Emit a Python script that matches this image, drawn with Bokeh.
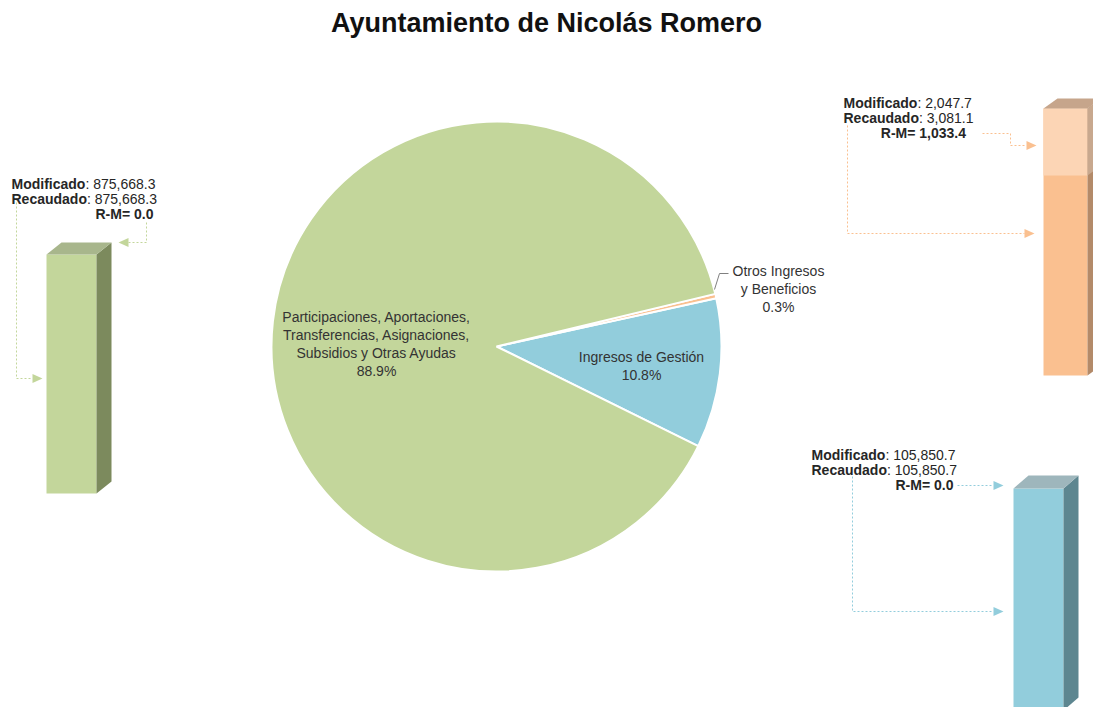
import math
from bokeh.plotting import figure
from bokeh.models import Range1d
from bokeh.embed import file_html
from bokeh.resources import INLINE
from bokeh.core.properties import value

# ---------------- data ----------------
title_text = "Ayuntamiento de Nicolás Romero"
categories = ["Participaciones, Aportaciones, Transferencias, Asignaciones, Subsidios y Otras Ayudas",
              "Ingresos de Gestión",
              "Otros Ingresos y Beneficios"]
label_lines = [["Participaciones, Aportaciones,", "Transferencias, Asignaciones,", "Subsidios y Otras Ayudas"],
               ["Ingresos de Gestión"],
               ["Otros Ingresos", "y Beneficios"]]
modificado = [875668.3, 105850.7, 2047.7]
recaudado = [875668.3, 105850.7, 3081.1]
pie_colors = ["#C3D69B", "#92CDDC", "#FAC090"]

# ---------------- layout helpers ----------------
FONT = "Liberation Sans"
W, H = 1093, 707


def Y(sy):
    # screen y -> data y
    return H - sy


REG = {c: 556 for c in "0123456789"}
REG.update({",": 278, ".": 278, ":": 278, " ": 278})
BOLD = {c: 556 for c in "0123456789"}
BOLD.update({"M": 833, "o": 611, "d": 611, "i": 278, "f": 333, "c": 556, "a": 556,
             "R": 722, "e": 556, "u": 611, "-": 333, "=": 584, " ": 278, ",": 278,
             ".": 278, ":": 333})


def tw(s, table, size):
    return sum(table.get(c, 556) for c in s) / 1000.0 * size


def fmt(v):
    return f"{v:,.1f}"


p = figure(width=W, height=H, x_range=Range1d(0, W), y_range=Range1d(0, H),
           output_backend="svg", toolbar_location=None, min_border=0,
           outline_line_color=None, background_fill_color="white",
           border_fill_color="white")
p.axis.visible = False
p.xgrid.visible = False
p.ygrid.visible = False

# ---------------- title ----------------
p.text(x=[546], y=[Y(22)], text=[title_text], text_font=value(FONT), text_font_size="27px",
       text_font_style="bold", text_align="center", text_baseline="middle",
       text_color="#111111")

# ---------------- pie ----------------
cx, cy, R = 496, Y(346), 225
total = sum(recaudado)
order = [1, 2, 0]
a = math.radians(-26.3)
starts, ends, cols = [], [], []
for i in order:
    span = recaudado[i] / total * 2 * math.pi
    starts.append(a)
    ends.append(a + span)
    cols.append(pie_colors[i])
    a += span
p.wedge(x=cx, y=cy, radius=R, start_angle=starts, end_angle=ends, fill_color=cols,
        line_color="white", line_width=2)

pct = [f"{v / total * 100:.1f}%" for v in recaudado]
label_pos = [(376, 316), (641, 356), (778, 270)]
for i, (lx, ly) in enumerate(label_pos):
    lines = label_lines[i] + [pct[i]]
    ys = [Y(ly + k * 18.2) for k in range(len(lines))]
    p.text(x=[lx] * len(lines), y=ys, text=lines, text_font=value(FONT),
           text_font_size="14px", text_align="center", text_baseline="middle",
           text_color="#333333")

# leader line for small slice
p.line(x=[714, 719, 728], y=[Y(289), Y(273), Y(273)], line_color="#808080", line_width=1)


# ---------------- 3D bars ----------------
def quad(xs, ys, color):
    p.patch(x=xs, y=[Y(v) for v in ys], fill_color=color, line_color=None)


def bar3d(x0, w, top, bottom, dx, dy, front, side, topc, split=None, front2=None, side2=None):
    x1 = x0 + w
    quad([x0, x1, x1, x0], [top, top, bottom, bottom], front)
    quad([x1, x1 + dx, x1 + dx, x1], [top, top - dy, bottom - dy, bottom], side)
    if split is not None:
        quad([x0, x1, x1, x0], [top, top, split, split], front2)
        quad([x1, x1 + dx, x1 + dx, x1], [top, top - dy, split - dy, split], side2)
    quad([x0, x0 + dx, x1 + dx, x1], [top, top - dy, top - dy, top], topc)


bar3d(46, 50, 254, 493, 15, 12, "#C3D69B", "#7C8A5D", "#A8B68C")
bar3d(1043, 44, 108, 375, 14, 10, "#FAC090", "#B38A69", "#C6A58B",
      split=175, front2="#FCD5B5", side2="#C8A88E")
bar3d(1013, 50, 488, 710, 15, 13, "#92CDDC", "#5D8690", "#9EB6BC")


# ---------------- connectors ----------------
def conn(xs, ys, color):
    p.line(x=xs, y=[Y(v) for v in ys], line_color=color, line_width=1, line_dash="2 2")


def arrow(tip_x, sy, direction, color):
    b = tip_x - 10 * direction
    p.patch(x=[tip_x, b, b], y=[Y(sy), Y(sy - 4.5), Y(sy + 4.5)], fill_color=color,
            line_color=None)


# left (green)
conn([16, 16, 32], [198, 378, 378], "#C3D69B")
arrow(42, 378, 1, "#C3D69B")
conn([146, 146, 128], [222, 242, 242], "#C3D69B")
arrow(118, 242, -1, "#C3D69B")
# orange
conn([982, 1010, 1010, 1026], [133, 133, 145, 145], "#FAC090")
arrow(1036, 145, 1, "#FAC090")
conn([847, 847, 1024], [125, 233, 233], "#FAC090")
arrow(1034, 233, 1, "#FAC090")
# blue
conn([957, 993], [485, 485], "#92CDDC")
arrow(1003, 485, 1, "#92CDDC")
conn([852, 852, 993], [476, 611, 611], "#92CDDC")
arrow(1003, 611, 1, "#92CDDC")


# ---------------- annotations ----------------
def annotate(idx, x0, mid_y, mod_sep=": ", rm_sep=" "):
    size = 14
    step = 15
    rows = [("Modificado", mod_sep + fmt(modificado[idx])),
            ("Recaudado", ": " + fmt(recaudado[idx]))]
    end_x = x0
    for k, (b, r) in enumerate(rows):
        yy = Y(mid_y + k * step)
        wb = tw(b, BOLD, size)
        p.text(x=[x0], y=[yy], text=[b], text_font=value(FONT), text_font_size=f"{size}px",
               text_font_style="bold", text_align="left", text_baseline="middle",
               text_color="#262626")
        p.text(x=[x0 + wb], y=[yy], text=[r], text_font=value(FONT),
               text_font_size=f"{size}px", text_align="left", text_baseline="middle",
               text_color="#262626")
        if k == 0:
            end_x = x0 + wb + tw(r, REG, size)
    rm = recaudado[idx] - modificado[idx]
    p.text(x=[end_x - 2], y=[Y(mid_y + 2 * step)], text=[f"R-M={rm_sep}{fmt(rm)}"],
           text_font=value(FONT), text_font_size=f"{size}px", text_font_style="bold",
           text_align="right", text_baseline="middle", text_color="#262626")


annotate(0, 11, 183)
annotate(2, 843, 102.5, rm_sep="  ")
annotate(1, 811, 454)

open("out.html", "w").write(file_html(p, INLINE))
